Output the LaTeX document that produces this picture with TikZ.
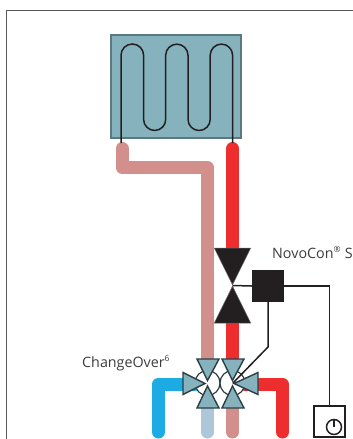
\documentclass[tikz,border=0pt]{standalone}
\usepackage{fontspec}
\setmainfont{Open Sans}
\definecolor{radfill}{HTML}{85B2BD}
\definecolor{raddraw}{HTML}{5A7A80}
\definecolor{inkdark}{HTML}{231F20}
\definecolor{valvedraw}{HTML}{2B3E44}
\definecolor{pipepink}{HTML}{D28F8B}
\definecolor{pipered}{HTML}{EE2E2E}
\definecolor{pipeblue}{HTML}{1CABE2}
\definecolor{pipepale}{HTML}{AEC6D9}
\definecolor{labelgrey}{HTML}{3C3C3C}
\tikzset{
  pipe/.style={line width=13pt, line cap=round, line join=round},
  wire/.style={line width=1.5pt, draw=inkdark},
  covalve/.style={fill=radfill, draw=valvedraw, line width=1.4pt, line join=miter},
  blackvalve/.style={fill=inkdark, draw=black!60, line width=0.5pt},
  label/.style={font=\fontsize{14.3}{16}\selectfont, text=labelgrey, inner sep=0pt, anchor=base west}
}
\newcommand{\smallsup}[1]{\textsuperscript{\fontsize{8.5}{9}\selectfont #1}}
\begin{document}
\begin{tikzpicture}[x=1pt, y=-1pt]
  \useasboundingbox (0,0) rectangle (353,439);
  % frame
  \draw[line width=1.5pt, draw=inkdark!75] (6.3,439) -- (6.3,10.7) -- (353,10.7);
  % radiator
  \draw[fill=radfill, draw=raddraw, line width=1.8pt] (110.8,35) rectangle (241,137.6);
  % pipes
  \draw[pipe, pipepink] (122,148.5) -- (122,167.5) -- (207.5,167.5) -- (207.5,365);
  \draw[pipe, pipered] (232.5,148.5) -- (232.5,250);
  \draw[pipe, pipered] (232.5,318) -- (232.5,365);
  \draw[pipe, pipeblue] (158.5,432) -- (158.5,384) -- (195,384);
  \draw[pipe, pipered] (282.5,432) -- (282.5,384) -- (245,384);
  \draw[pipe, pipepale] (207.5,400) -- (207.5,432);
  \draw[pipe, pipepink] (232.5,400) -- (232.5,432);
  % coil
  \draw[line width=1.5pt, draw=inkdark] (121,143) -- (121,55.3) arc[start angle=180, end angle=360, radius=11.3]
    -- (143.6,119.4) arc[start angle=180, end angle=0, radius=11.05]
    -- (165.7,55.3) arc[start angle=180, end angle=360, radius=11.15]
    -- (188,119.4) arc[start angle=180, end angle=0, radius=11.1]
    -- (210.2,55.3) arc[start angle=180, end angle=360, radius=11.2]
    -- (232.6,143);
  % changeover rings
  \draw[fill=white, draw=valvedraw, line width=1.2pt] (207.5,383) circle (12.5);
  \draw[fill=white, draw=valvedraw, line width=1.2pt] (232.5,383) circle (12.5);
  \draw[covalve] (197,359) -- (219,359) -- (207.5,380.5) -- cycle;
  \draw[covalve] (197,408) -- (219,408) -- (207.5,386) -- cycle;
  \draw[covalve] (222,359) -- (244,359) -- (232.5,380.5) -- cycle;
  \draw[covalve] (222,408) -- (244,408) -- (232.5,386) -- cycle;
  \draw[covalve] (183,372.5) -- (183,394.5) -- (205,383.5) -- cycle;
  \draw[covalve] (258,372.5) -- (258,394.5) -- (234,383.5) -- cycle;
  % motor valve
  \draw[blackvalve] (214.3,248) -- (250.7,248) -- (232.5,284.8) -- cycle;
  \draw[blackvalve] (214.3,323) -- (250.7,323) -- (232.5,286.2) -- cycle;
  \coordinate (vtip) at (232.5,285.5);
  \coordinate (cotip) at (233,383);
  \coordinate (kink) at (268,347);
  % actuator and thermostat
  \node[fill=inkdark, minimum size=32pt, inner sep=0pt] (ctrl) at (268,286) {};
  \node[draw=inkdark, line width=1.5pt, fill=white, minimum size=31pt, inner sep=0pt] (clockbox) at (329.5,421.5) {};
  \node[draw=inkdark, line width=1.5pt, circle, minimum size=15pt, inner sep=0pt] (dial) at (334,427) {};
  \draw[wire] (dial.center) -- (dial.north);
  \draw[wire] (vtip) -- (ctrl.west);
  \draw[wire] (ctrl.east) -| (clockbox.north);
  \draw[wire] (ctrl.center) -- (kink) -- (cotip);
  % labels
  \node[label] (novocon) at (272,258) {NovoCon\smallsup{®} S};
  \node[label] (changeover) at (82,367) {ChangeOver\smallsup{6}};
\end{tikzpicture}
\end{document}
